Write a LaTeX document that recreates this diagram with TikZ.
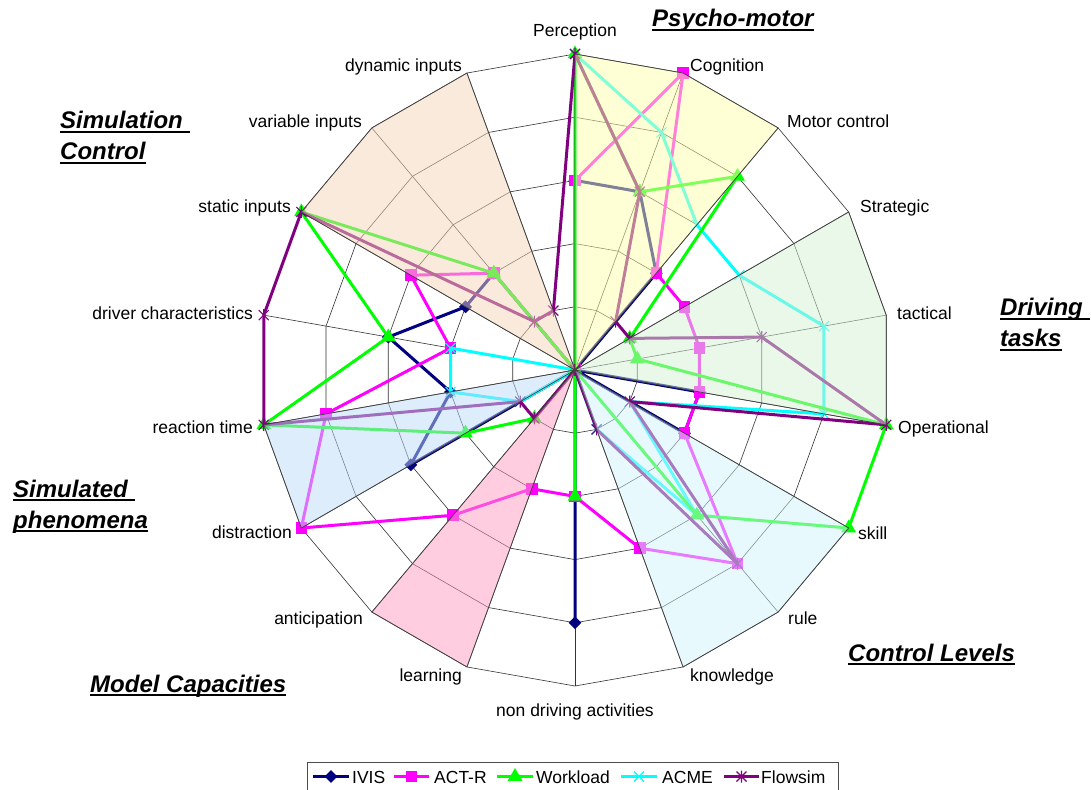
\documentclass[tikz,border=0pt]{standalone}
\usepackage{fontspec}
\setmainfont{Liberation Sans}
\usetikzlibrary{positioning}
\usetikzlibrary{calc}
\usetikzlibrary{shapes.geometric}

\definecolor{ivisblue}{RGB}{0,0,128}
\definecolor{actrpink}{RGB}{255,0,255}
\definecolor{workgreen}{RGB}{0,255,0}
\definecolor{acmecyan}{RGB}{0,255,255}
\definecolor{flowpurple}{RGB}{128,0,128}
\definecolor{psychofill}{RGB}{255,255,175}
\definecolor{drivefill}{RGB}{213,243,213}
\definecolor{controlfill}{RGB}{209,245,253}
\definecolor{modelfill}{RGB}{255,155,195}
\definecolor{phenofill}{RGB}{190,220,250}
\definecolor{simfill}{RGB}{245,215,185}

% scores per axis, clockwise from Perception
\def\ivisvals{3,3,2,0,0,2,2,0,0,4,0,0,3,2,3,2,2,0}
\def\actrvals{3,5,2,2,2,2,2,4,3,2,2,3,5,4,2,3,2,0}
\def\workvals{5,3,4,1,1,5,5,3,0,2,0,1,2,5,3,5,2,0}
\def\acmevals{5,4,3,3,4,4,1,3,1,0,0,0,1,2,2,0,0,0}
\def\flowvals{5,3,1,1,3,5,1,4,1,0,0,1,1,5,5,5,1,1}

\newcommand\ulgroup[1]{\setbox0\hbox{#1}\rlap{\rule[-4pt]{\wd0}{1.8pt}}\box0}

\begin{document}
\begin{tikzpicture}[x=1pt, y=1pt,
    gridline/.style={draw=black!80, line width=0.6pt},
    spoke/.style={draw=black!80, line width=0.6pt},
    axislabel/.style={font=\fontsize{17.5}{20}\selectfont, inner sep=0pt},
    grouplabel/.style={font=\fontsize{24}{28}\selectfont\bfseries\itshape, inner sep=0pt, anchor=base west},
    sector/.style={fill opacity=0.5, draw=black!75, line width=0.7pt},
    series/.style={line width=3pt, line join=round},
    ivismark/.style={diamond, fill=ivisblue, minimum size=13pt, inner sep=0pt},
    actrmark/.style={rectangle, fill=actrpink, minimum size=11.5pt, inner sep=0pt},
    workmark/.style={regular polygon, regular polygon sides=3, fill=workgreen, minimum size=17pt, inner sep=0pt},
    acmemark/.pic={\draw[acmecyan, line width=1.1pt] (-5,-5) -- (5,5) (-5,5) -- (5,-5);},
    flowmark/.pic={\draw[flowpurple, line width=1.1pt] (-5,-5) -- (5,5) (-5,5) -- (5,-5) (0,-6) -- (0,6);},
  ]
  \fill[white] (-575,-419) rectangle (516,370);
  \useasboundingbox (-575,-419) rectangle (516,370);

  % Grid
  \coordinate (hub) at (0,0);
  \foreach \i in {0,...,17}
    \coordinate (rim-\i) at ({90-20*\i}:316);
  \foreach \k in {1,...,5}
    \draw[gridline] (90:{63.2*\k}) \foreach \i in {1,...,17} { -- ({90-20*\i}:{63.2*\k}) } -- cycle;
  \foreach \i in {0,...,17}
    \draw[spoke] (hub) -- (rim-\i);

  % Series
  \foreach \v [count=\i from 0] in \ivisvals
    \coordinate (ivis-\i) at ({90-20*\i}:{63.2*\v});
  \foreach \v [count=\i from 0] in \actrvals
    \coordinate (actr-\i) at ({90-20*\i}:{63.2*\v});
  \foreach \v [count=\i from 0] in \workvals
    \coordinate (work-\i) at ({90-20*\i}:{63.2*\v});
  \foreach \v [count=\i from 0] in \acmevals
    \coordinate (acme-\i) at ({90-20*\i}:{63.2*\v});
  \foreach \v [count=\i from 0] in \flowvals
    \coordinate (flow-\i) at ({90-20*\i}:{63.2*\v});

  \draw[series, ivisblue] (ivis-0) \foreach \i in {1,...,17} { -- (ivis-\i) } -- cycle;
  \foreach \i in {0,...,17} \node[ivismark] at (ivis-\i) {};
  \draw[series, actrpink] (actr-0) \foreach \i in {1,...,17} { -- (actr-\i) } -- cycle;
  \foreach \i in {0,...,17} \node[actrmark] at (actr-\i) {};
  \draw[series, acmecyan] (acme-0) \foreach \i in {1,...,17} { -- (acme-\i) } -- cycle;
  \foreach \i in {0,...,17} \pic at (acme-\i) {acmemark};
  \draw[series, workgreen] (work-0) \foreach \i in {1,...,17} { -- (work-\i) } -- cycle;
  \foreach \i in {0,...,17} \node[workmark] at (work-\i) {};
  \draw[series, flowpurple] (flow-0) \foreach \i in {1,...,17} { -- (flow-\i) } -- cycle;
  \foreach \i in {0,...,17} \pic at (flow-\i) {flowmark};

  % Sectors
  \path[sector, fill=psychofill]  (hub) -- (rim-0) -- (rim-1) -- (rim-2) -- cycle;
  \path[sector, fill=drivefill]   (hub) -- (rim-3) -- (rim-4) -- (rim-5) -- cycle;
  \path[sector, fill=controlfill] (hub) -- (rim-6) -- (rim-7) -- (rim-8) -- cycle;
  \path[sector, fill=modelfill]   (hub) -- (rim-10) -- (rim-11) -- cycle;
  \path[sector, fill=phenofill]   (hub) -- (rim-12) -- (rim-13) -- cycle;
  \path[sector, fill=simfill]     (hub) -- (rim-15) -- (rim-16) -- (rim-17) -- cycle;

  % Axis labels
  \node[axislabel, anchor=base]      (perception) at (0,333)      {Perception};
  \node[axislabel, anchor=base west] (cognition)  at (115,298)    {Cognition};
  \node[axislabel, anchor=base west] (motor)      at (212,242)    {Motor control};
  \node[axislabel, anchor=base west] (strategic)  at (285,157)    {Strategic};
  \node[axislabel, anchor=base west] (tactical)   at (322,50)     {tactical};
  \node[axislabel, anchor=base west] (operational) at (323,-63)   {Operational};
  \node[axislabel, anchor=base west] (skill)      at (283,-169)   {skill};
  \node[axislabel, anchor=base west] (rule)       at (213,-254)   {rule};
  \node[axislabel, anchor=base west] (knowledge)  at (115,-311)   {knowledge};
  \node[axislabel, anchor=base]      (nondriving) at (0,-346)     {non driving activities};
  \node[axislabel, anchor=base east] (learning)   at (-113,-311)  {learning};
  \node[axislabel, anchor=base east] (anticipation) at (-212,-254) {anticipation};
  \node[axislabel, anchor=base east] (distraction) at (-283,-168) {distraction};
  \node[axislabel, anchor=base east] (reaction)   at (-322,-63)   {reaction time};
  \node[axislabel, anchor=base east] (driverchar) at (-322,50)    {driver characteristics};
  \node[axislabel, anchor=base east] (static)     at (-284,157)   {static inputs};
  \node[axislabel, anchor=base east] (variable)   at (-213,242)   {variable inputs};
  \node[axislabel, anchor=base east] (dynamic)    at (-113,298)   {dynamic inputs};

  % Group titles
  \node[grouplabel] (psychomotor) at (77,343)    {\ulgroup{Psycho-motor}};
  \node[grouplabel] (simctrl_a)   at (-515,241)  {\ulgroup{Simulation\ }};
  \node[grouplabel] (simctrl_b)   at (-515,210)  {\ulgroup{Control}};
  \node[grouplabel] (drivetask_a) at (425,54)    {\ulgroup{Driving\ }};
  \node[grouplabel] (drivetask_b) at (425,23)    {\ulgroup{tasks}};
  \node[grouplabel] (simpheno_a)  at (-562,-127) {\ulgroup{Simulated\ }};
  \node[grouplabel] (simpheno_b)  at (-562,-158) {\ulgroup{phenomena}};
  \node[grouplabel] (ctrllevels)  at (273,-291)  {\ulgroup{Control Levels}};
  \node[grouplabel] (modelcap)    at (-485,-322) {\ulgroup{Model Capacities}};

  % Legend
  \draw[black!70, line width=0.8pt] (-268,-392) rectangle (263,-425);
  \coordinate (key_ivis_a) at (-262,-406.5);  \coordinate (key_ivis_b) at (-226,-406.5);
  \coordinate (key_actr_a) at (-181,-406.5);  \coordinate (key_actr_b) at (-146,-406.5);
  \coordinate (key_work_a) at (-78,-406.5);   \coordinate (key_work_b) at (-42,-406.5);
  \coordinate (key_acme_a) at (46,-406.5);    \coordinate (key_acme_b) at (82,-406.5);
  \coordinate (key_flow_a) at (149,-406.5);   \coordinate (key_flow_b) at (184,-406.5);
  \draw[series, ivisblue]   (key_ivis_a) -- (key_ivis_b);
  \node[ivismark] at ($(key_ivis_a)!0.5!(key_ivis_b)$) {};
  \draw[series, actrpink]   (key_actr_a) -- (key_actr_b);
  \node[actrmark] at ($(key_actr_a)!0.5!(key_actr_b)$) {};
  \draw[series, workgreen]  (key_work_a) -- (key_work_b);
  \node[workmark] at ($(key_work_a)!0.5!(key_work_b)$) {};
  \draw[series, acmecyan]   (key_acme_a) -- (key_acme_b);
  \pic at ($(key_acme_a)!0.5!(key_acme_b)$) {acmemark};
  \draw[series, flowpurple] (key_flow_a) -- (key_flow_b);
  \pic at ($(key_flow_a)!0.5!(key_flow_b)$) {flowmark};
  \node[axislabel, anchor=base west] (key_ivis) at (-223,-413.5) {IVIS};
  \node[axislabel, anchor=base west] (key_actr) at (-141,-413.5) {ACT-R};
  \node[axislabel, anchor=base west] (key_work) at (-39,-413.5)  {Workload};
  \node[axislabel, anchor=base west] (key_acme) at (87,-413.5)   {ACME};
  \node[axislabel, anchor=base west] (key_flow) at (186,-413.5)  {Flowsim};
\end{tikzpicture}
\end{document}
